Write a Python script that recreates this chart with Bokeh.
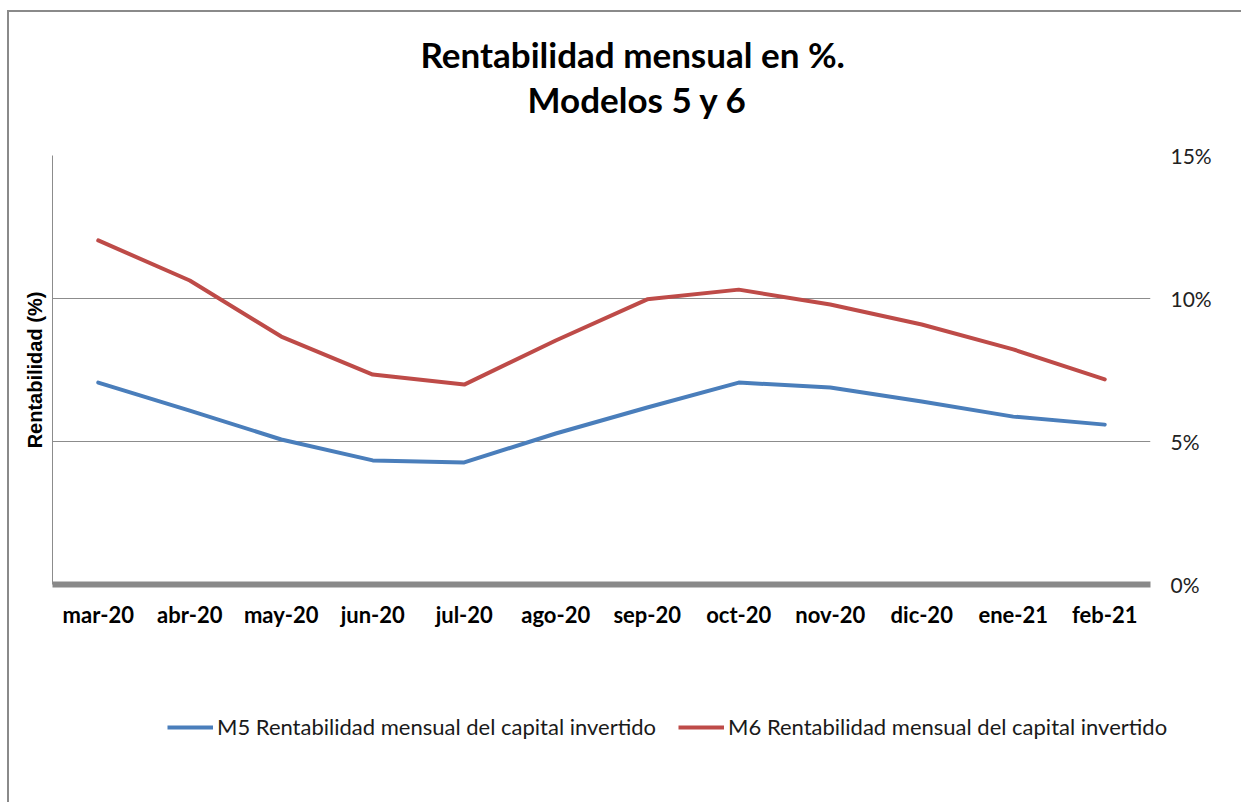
from bokeh.plotting import figure
from bokeh.layouts import column
from bokeh.models import (FactorRange, Range1d, LinearAxis, FixedTicker,
                          PrintfTickFormatter, Legend, LegendItem, Title)
from bokeh.embed import file_html
from bokeh.resources import INLINE

months = ["mar-20", "abr-20", "may-20", "jun-20", "jul-20", "ago-20",
          "sep-20", "oct-20", "nov-20", "dic-20", "ene-21", "feb-21"]
m5 = [7.06, 6.08, 5.07, 4.34, 4.27, 5.28, 6.19, 7.06, 6.89, 6.40, 5.87, 5.59]
m6 = [12.03, 10.63, 8.67, 7.34, 6.99, 8.53, 9.97, 10.31, 9.79, 9.09, 8.22, 7.17]
y_ticks = [0, 5, 10, 15]
title_line1 = "Rentabilidad mensual en %."
title_line2 = "Modelos 5 y 6"
y_label = "Rentabilidad (%)"
label_m5 = "M5 Rentabilidad mensual del capital invertido"
label_m6 = "M6 Rentabilidad mensual del capital invertido"
c5, c6 = "#4a7ebb", "#be4b48"
NAN = float("nan")

W, H1, H2 = 1232, 650, 140
p = figure(width=W, height=H1, output_backend="svg", toolbar_location=None,
           title=None,
           x_range=FactorRange(*months, range_padding=0),
           y_range=Range1d(0, 15), y_axis_location="right",
           min_border_left=43, min_border_top=143,
           min_border_right=91, min_border_bottom=78)
p.frame_align = False
p.outline_line_color = None
p.background_fill_color = "white"
p.border_fill_color = "white"

t2 = Title(text=title_line2, align="left", vertical_align="top", text_font="Lato",
           text_font_size="35px", text_font_style="bold", text_color="black",
           offset=475, standoff=68)
t1 = Title(text=title_line1, align="left", vertical_align="bottom", text_font="Lato",
           text_font_size="35px", text_font_style="bold", text_color="black",
           offset=368, standoff=-62)
p.add_layout(t2, "above")
p.add_layout(t1, "above")

# x axis
xa = p.xaxis[0]
xa.axis_line_color = "#898989"
xa.axis_line_width = 6
xa.major_tick_line_color = None
xa.minor_tick_line_color = None
xa.major_label_text_font = "Lato"
xa.major_label_text_font_size = "22px"
xa.major_label_text_font_style = "bold"
xa.major_label_text_color = "black"
xa.major_label_standoff = 10
p.xgrid.grid_line_color = None

# right y axis
ya = p.yaxis[0]
ya.ticker = FixedTicker(ticks=y_ticks)
ya.formatter = PrintfTickFormatter(format="%d%%")
ya.axis_line_color = None
ya.major_tick_line_color = None
ya.minor_tick_line_color = None
ya.major_label_text_font = "Lato"
ya.major_label_text_font_size = "21px"
ya.major_label_text_color = "#222222"
ya.major_label_standoff = 14
p.ygrid.ticker = FixedTicker(ticks=y_ticks)
p.ygrid.grid_line_color = "#8c8c8c"
p.ygrid.grid_line_width = 1

# left axis (label only)
la = LinearAxis(ticker=FixedTicker(ticks=[]), axis_label=y_label)
la.axis_line_color = "#8c8c8c"
la.axis_line_width = 1
la.major_tick_line_color = None
la.minor_tick_line_color = None
la.major_label_text_font_size = "0px"
la.axis_label_text_font = "Liberation Sans"
la.axis_label_text_font_size = "20px"
la.axis_label_text_font_style = "bold"
la.axis_label_text_color = "black"
la.axis_label_standoff = 7
p.add_layout(la, "left")

p.line(months, m5, line_color=c5, line_width=4, line_cap="round", line_join="round")
p.line(months, m6, line_color=c6, line_width=4, line_cap="round", line_join="round")

# legend strip
p2 = figure(width=W, height=H2, output_backend="svg", toolbar_location=None,
            x_range=Range1d(0, 1), y_range=Range1d(0, 1),
            x_axis_location=None, y_axis_location=None,
            min_border=0, min_border_left=0, min_border_right=0,
            min_border_top=0, min_border_bottom=0)
p2.frame_align = False
p2.grid.visible = False
p2.outline_line_color = None
p2.border_fill_color = "white"
g5 = p2.line(x=[NAN], y=[NAN], line_color=c5, line_width=4)
g6 = p2.line(x=[NAN], y=[NAN], line_color=c6, line_width=4)
legend = Legend(items=[LegendItem(label=label_m5, renderers=[g5]),
                       LegendItem(label=label_m6, renderers=[g6])],
                orientation="horizontal", location=(158, 62),
                glyph_width=46, glyph_height=24, label_standoff=4, spacing=22,
                padding=0, margin=0, border_line_color=None,
                background_fill_alpha=0, label_height=24,
                label_text_font="Lato", label_text_font_size="22px",
                label_text_color="#1a1a1a")
p2.add_layout(legend, "center")

layout = column(p, p2, spacing=0)
layout.styles = {"border-left": "2px solid #8a8a8a", "border-top": "2px solid #8a8a8a",
                 "margin-top": "10px", "margin-left": "7px"}

open("out.html", "w").write(file_html(layout, INLINE))
